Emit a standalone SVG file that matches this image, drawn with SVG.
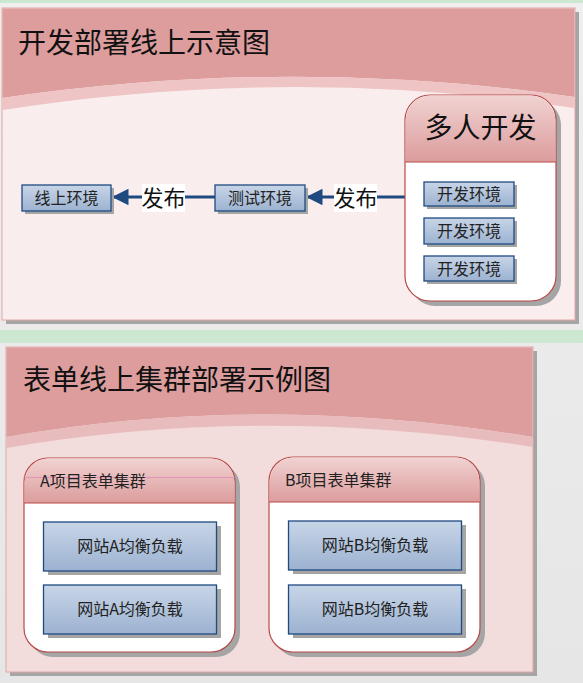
<svg xmlns="http://www.w3.org/2000/svg" width="583" height="683" viewBox="0 0 583 683">
<defs>
<linearGradient id="gBlue" x1="0" y1="0" x2="0" y2="1">
<stop offset="0" stop-color="#c8d5e7"/>
<stop offset="1" stop-color="#9cb2d1"/>
</linearGradient>
<linearGradient id="gHead" x1="0" y1="0" x2="0" y2="1">
<stop offset="0" stop-color="#f1d2d2"/>
<stop offset="1" stop-color="#dc9c9c"/>
</linearGradient>
<linearGradient id="gBg" x1="0" y1="0" x2="0" y2="1">
<stop offset="0" stop-color="#efefef"/>
<stop offset="1" stop-color="#e6e6e6"/>
</linearGradient>
<marker id="arr" viewBox="0 0 10 10" refX="10" refY="5" markerWidth="5.5" markerHeight="5.5" markerUnits="strokeWidth" orient="auto">
<path d="M10,5 L0,0 L0,10 Z" fill="#1f4a80"/>
</marker>
</defs>
<style>
.title{font-family:"Noto Sans CJK SC","Liberation Sans",sans-serif;font-size:28px;fill:#111}
.btxt{font-family:"Noto Sans CJK SC","Liberation Sans",sans-serif;font-size:16px;fill:#222;text-anchor:middle}
.ctxt{font-family:"Noto Sans CJK SC","Liberation Sans",sans-serif;font-size:16px;fill:#222}
.lbl{font-family:"Noto Sans CJK SC","Liberation Sans",sans-serif;font-size:22px;fill:#111;text-anchor:middle}
.box{fill:url(#gBlue);stroke:#1f4a80;stroke-width:1.3}
.shd{fill:#a5a5a5}
.cont{fill:#ffffff;stroke:#b84a48;stroke-width:1.2}
.conn{stroke:#1f4a80;stroke-width:3;fill:none}
</style>
<rect x="0" y="0" width="583" height="683" fill="url(#gBg)"/>
<rect x="0" y="0" width="583" height="3" fill="#cde8d1"/>
<rect x="0" y="330" width="583" height="13" fill="#cde8d1"/>

<!-- Panel 1 -->
<g id="panel1">
<rect x="6" y="12" width="573" height="312" fill="#a5a5a5"/>
<rect x="2" y="8" width="573" height="312" fill="#f9eded" stroke="#e3a6a6" stroke-width="1"/>
<path d="M2.5,8.5 H574.5 V97 Q290,56 2.5,98 Z" fill="#dd9d9d"/>
<path d="M2.5,98 Q290,56 574.5,97 V108 Q290,65 2.5,110 Z" fill="#eec4c4"/>
<text class="title" x="18" y="53">开发部署线上示意图</text>
</g>

<!-- Panel 2 -->
<g id="panel2">
<rect x="10" y="351" width="527" height="325" fill="#a5a5a5"/>
<rect x="6" y="347" width="527" height="325" fill="#f2dcdc" stroke="#e3a6a6" stroke-width="1"/>
<path d="M6.5,347.5 H532.5 V437 Q262,392 6.5,437 Z" fill="#dd9d9d"/>
<path d="M6.5,437 Q262,392 532.5,437 V447 Q262,404 6.5,448 Z" fill="#e8bcbc"/>
<text class="title" x="23" y="390">表单线上集群部署示例图</text>
</g>

<!-- Connectors -->
<g id="connectors">
<line class="conn" x1="405" y1="197" x2="306" y2="197" marker-end="url(#arr)"/>
<rect x="334" y="184" width="43" height="28" fill="#ffffff"/>
<text class="lbl" x="355.5" y="206">发布</text>
<line class="conn" x1="215" y1="197" x2="112" y2="197" marker-end="url(#arr)"/>
<rect x="142" y="184" width="43" height="28" fill="#ffffff"/>
<text class="lbl" x="163.5" y="206">发布</text>
</g>

<!-- Top nodes -->
<g id="node-online">
<rect class="shd" x="25" y="188" width="89" height="26"/>
<rect class="box" x="22" y="185" width="89" height="26"/>
<text class="btxt" x="66.5" y="204">线上环境</text>
</g>
<g id="node-test">
<rect class="shd" x="218" y="188" width="90" height="26"/>
<rect class="box" x="215" y="185" width="90" height="26"/>
<text class="btxt" x="260" y="204">测试环境</text>
</g>

<g id="node-multidev">
<rect class="shd" x="410" y="100" width="151" height="206" rx="25"/>
<rect class="cont" x="405" y="95" width="151" height="206" rx="25"/>
<path d="M405.6,162 V120 A25,25 0 0 1 430,95.6 H531 A25,25 0 0 1 555.4,120 V162 Z" fill="url(#gHead)"/>
<line x1="405" y1="162" x2="556" y2="162" stroke="#b84a48" stroke-width="1.2"/>
<text class="title" x="480.5" y="138" style="text-anchor:middle">多人开发</text>
</g>
<g id="node-dev1">
<rect class="shd" x="427" y="185" width="90" height="24"/>
<rect class="box" x="424" y="182" width="90" height="24"/>
<text class="btxt" x="469" y="200">开发环境</text>
</g>
<g id="node-dev2">
<rect class="shd" x="427" y="221" width="90" height="26"/>
<rect class="box" x="424" y="218" width="90" height="26"/>
<text class="btxt" x="469" y="237">开发环境</text>
</g>
<g id="node-dev3">
<rect class="shd" x="427" y="259" width="90" height="25"/>
<rect class="box" x="424" y="256" width="90" height="25"/>
<text class="btxt" x="469" y="275">开发环境</text>
</g>

<!-- Bottom containers -->
<g id="node-clusterA">
<rect class="shd" x="29" y="463" width="211" height="194" rx="24"/>
<rect class="cont" x="24" y="458" width="211" height="194" rx="24"/>
<path d="M24.6,503 V482 A24,24 0 0 1 48,458.6 H211 A24,24 0 0 1 234.4,482 V503 Z" fill="url(#gHead)"/>
<line x1="24" y1="503" x2="235" y2="503" stroke="#b84a48" stroke-width="1.2"/>
<line x1="24" y1="477.5" x2="235" y2="477.5" stroke="#e08ab8" stroke-width="0.8"/>
<text class="ctxt" x="40" y="487">A项目表单集群</text>
</g>
<g id="node-clusterB">
<rect class="shd" x="274" y="462" width="211" height="195" rx="24"/>
<rect class="cont" x="269" y="457" width="211" height="195" rx="24"/>
<path d="M269.6,502 V481 A24,24 0 0 1 293,457.6 H456 A24,24 0 0 1 479.4,481 V502 Z" fill="url(#gHead)"/>
<line x1="269" y1="502" x2="480" y2="502" stroke="#b84a48" stroke-width="1.2"/>
<text class="ctxt" x="285" y="486">B项目表单集群</text>
</g>
<g id="node-a1">
<rect class="shd" x="48" y="526" width="173" height="49"/>
<rect class="box" x="43.5" y="522" width="173" height="49"/>
<text class="btxt" x="130" y="552">网站A均衡负载</text>
</g>
<g id="node-a2">
<rect class="shd" x="48" y="589" width="173" height="49"/>
<rect class="box" x="43.5" y="585" width="173" height="49"/>
<text class="btxt" x="130" y="615">网站A均衡负载</text>
</g>
<g id="node-b1">
<rect class="shd" x="293" y="525" width="173" height="49"/>
<rect class="box" x="288.5" y="521" width="173" height="49"/>
<text class="btxt" x="375" y="551">网站B均衡负载</text>
</g>
<g id="node-b2">
<rect class="shd" x="293" y="589" width="173" height="49"/>
<rect class="box" x="288.5" y="585" width="173" height="49"/>
<text class="btxt" x="375" y="615">网站B均衡负载</text>
</g>
</svg>
